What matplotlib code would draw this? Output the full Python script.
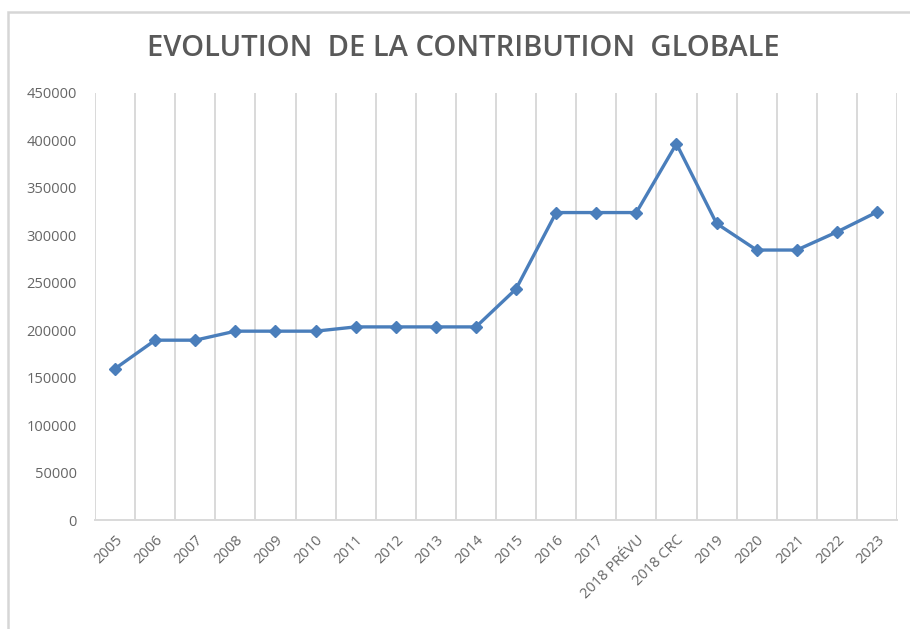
import numpy as np
import matplotlib.pyplot as plt
from matplotlib.patches import Rectangle

plt.rcParams['font.family'] = ['Open Sans', 'DejaVu Sans']

# Data
categories = ['2005', '2006', '2007', '2008', '2009', '2010', '2011', '2012',
              '2013', '2014', '2015', '2016', '2017', '2018 PRÉVU', '2018 CRC',
              '2019', '2020', '2021', '2022', '2023']
contribution = [159500, 189500, 189500, 199000, 199000, 199000, 203500, 203500,
                203500, 203500, 243500, 324000, 324000, 324000, 396500,
                312500, 284500, 284500, 303500, 324500]
y_ticks = [0, 50000, 100000, 150000, 200000, 250000, 300000, 350000, 400000, 450000]

TEXT = '#595959'
TICK = '#666666'
GRID = '#d9d9d9'
LINE = '#4a7ebb'

fig = plt.figure(figsize=(9.1, 6.29), dpi=100)

# chart frame (the image is cropped on the right and bottom)
fig.patches.append(Rectangle((8 / 910, -0.1), 1.2, 1.1 - 12 / 629,
                             transform=fig.transFigure, fill=False,
                             edgecolor='#d6d6d6', linewidth=1.8))

ax = fig.add_axes([95 / 910, 109 / 629, 802 / 910, 427 / 629])

x = np.arange(len(categories))
ax.plot(x, contribution, color=LINE, linewidth=2.4, marker='D',
        markersize=6.5, markerfacecolor=LINE, markeredgecolor=LINE,
        solid_joinstyle='round', zorder=3)

ax.set_xlim(-0.5, len(categories) - 0.5)
ax.set_ylim(0, 450000)
ax.set_yticks(y_ticks)
ax.set_yticklabels([str(v) for v in y_ticks])

# vertical gridlines on category boundaries
for b in np.arange(-0.5, len(categories), 1.0):
    ax.axvline(b, color=GRID, linewidth=1.4, zorder=1)

ax.set_xticks(x)
ax.set_xticklabels(categories, rotation=45, ha='right', va='top',
                   rotation_mode='anchor')
ax.tick_params(axis='x', length=0, pad=9, labelsize=10.5, colors=TICK)
ax.tick_params(axis='y', length=0, pad=13, labelsize=10.5, colors=TICK)

for s in ['top', 'right', 'left']:
    ax.spines[s].set_visible(False)
ax.spines['bottom'].set_color(GRID)
ax.spines['bottom'].set_linewidth(1.4)

fig.text(463 / 910, 1 - 48 / 629, 'EVOLUTION  DE LA CONTRIBUTION  GLOBALE',
         ha='center', va='center', fontsize=21, color=TEXT,
         fontweight='semibold')

fig.savefig('out.png', dpi=100)
